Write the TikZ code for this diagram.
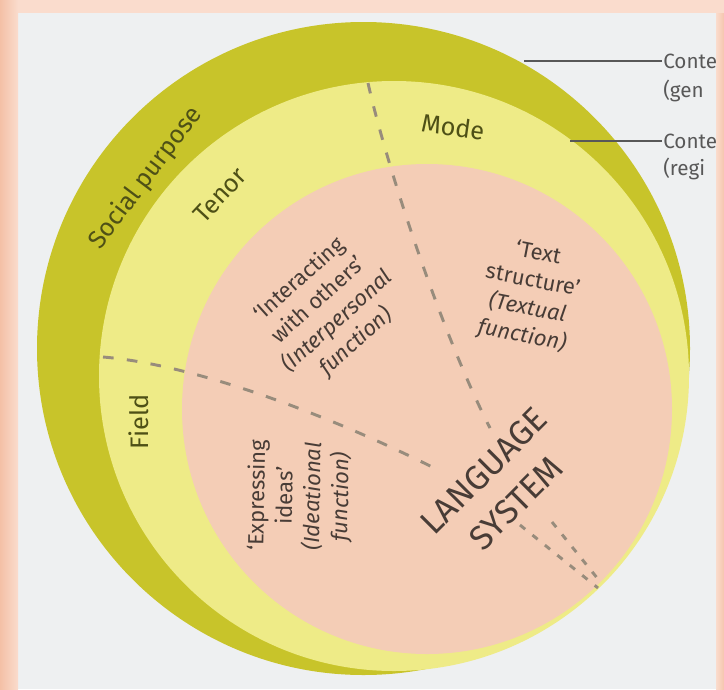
\documentclass[tikz,border=0pt]{standalone}
\usepackage{fontspec}
\setmainfont{Fira Sans}
\usepackage{tikz}
\usepackage{xcolor}

\definecolor{paper}{RGB}{238,240,241}
\definecolor{peachdark}{RGB}{244,192,166}
\definecolor{peachlight}{RGB}{250,220,205}
\definecolor{genrering}{RGB}{200,196,42}
\definecolor{registerring}{RGB}{238,235,135}
\definecolor{langdisc}{RGB}{244,205,182}
\definecolor{ringtext}{RGB}{78,80,22}
\definecolor{disctext}{RGB}{72,60,54}
\definecolor{divider}{RGB}{152,140,124}
\definecolor{leader}{RGB}{88,88,88}

\tikzset{
  ringlabel/.style={text=ringtext, font=\fontsize{19}{21}\selectfont, inner sep=0.75pt},
  disclabel/.style={text=disctext, font=\fontsize{16.5}{21}\selectfont, align=center, inner sep=0.75pt},
  sidelabel/.style={text=leader, font=\fontsize{15.5}{17}\selectfont, anchor=west, inner sep=0.75pt},
  divline/.style={draw=divider, line width=2.2pt, dash pattern=on 8pt off 10pt},
  leaderline/.style={draw=leader, line width=1.4pt}
}

\begin{document}
\begin{tikzpicture}[x=0.75pt,y=0.75pt,yscale=-1,xscale=1]
\useasboundingbox (0,0) rectangle (724,689);

% page
\fill[paper] (0,0) rectangle (724,689);

% Circles: genre, register, language system
\fill[genrering] (363.5,348.5) circle (326.5);
\fill[registerring] (394,376) circle (295);
\fill[langdisc] (427,409) circle (245);

% Dashed dividers
\draw[divline] (368,83) .. controls (385,160) and (440,330) .. (490,428);
\draw[divline] (103,357) .. controls (200,365) and (340,420) .. (440,471);
\draw[divline, dash pattern=on 5pt off 7pt] (520,525) -- (598,588);
\draw[divline, dash pattern=on 5pt off 7pt] (552,522) -- (602,584);

% Text Node
\draw (146,178) node (social) [ringlabel, rotate=53] {Social purpose};
% Text Node
\draw (220,195) node (tenor) [ringlabel, rotate=47] {Tenor};
% Text Node
\draw (453,127) node (mode) [ringlabel, rotate=-8] {Mode};
% Text Node
\draw (139,422) node (field) [ringlabel, rotate=90] {Field};

% Text Node
\draw (328,311) node (interpersonal) [disclabel, rotate=42] {`Interacting\\with others'\\\itshape(Interpersonal\\\itshape function)};
% Text Node
\draw (530,295) node (textual) [disclabel, rotate=-11] {`Text\\structure'\\\itshape(Textual\\\itshape function)};
% Text Node
\draw (300,496) node (ideational) [disclabel, rotate=89] {`Expressing\\ideas'\\\itshape(Ideational\\\itshape function)};
% Text Node
\draw (500,487) node (langsys) [text=disctext, font=\fontsize{25.5}{34}\selectfont, align=center, inner sep=0.75pt, rotate=45] {LANGUAGE\\SYSTEM};

% Leaders to the side labels
\coordinate (genre-tip) at (524,61);
\coordinate (register-tip) at (570,141);
\draw (662,61) node (genreA) [sidelabel] {Conte};
\draw (662,91) node (genreB) [sidelabel] {(gen};
\draw (662,141) node (registerA) [sidelabel] {Conte};
\draw (662,169) node (registerB) [sidelabel] {(regi};
\draw[leaderline] (genre-tip) -- (genreA.west);
\draw[leaderline] (register-tip) -- (registerA.west);

% peach frame
\shade[left color=peachdark, right color=peachlight] (0,0) rectangle (18,689);
\fill[peachlight] (18,0) rectangle (724,13);
\shade[left color=peachlight, right color=peachdark!80!peachlight] (716,13) rectangle (724,689);

\end{tikzpicture}
\end{document}
